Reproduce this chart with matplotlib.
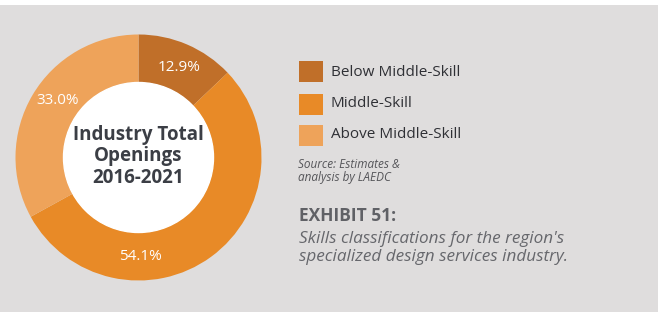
import numpy as np
import matplotlib.pyplot as plt
from matplotlib.patches import Rectangle

plt.rcParams['font.family'] = ['Open Sans', 'DejaVu Sans']

categories = ['Below Middle-Skill', 'Middle-Skill', 'Above Middle-Skill']
shares = [12.9, 54.1, 33.0]
colors = ['#c06f29', '#e88a27', '#eea35a']
label_angles = [66, -89, 144.5]   # where the % labels sit on the ring

W, H = 660, 312
bg = '#dfdddd'

fig = plt.figure(figsize=(W / 100, H / 100), dpi=100, facecolor=bg)
# white strip at the top and right edge
fig.patches.append(Rectangle((0, 1 - 5 / H), 1, 5 / H, transform=fig.transFigure,
                             facecolor='white', edgecolor='none'))
fig.patches.append(Rectangle((1 - 2 / W, 0), 2 / W, 1, transform=fig.transFigure,
                             facecolor='white', edgecolor='none'))

# donut
cx, cy, R = 138.5, 157.5, 123
box = 125
ax = fig.add_axes([(cx - box) / W, (H - cy - box) / H, 2 * box / W, 2 * box / H])
ax.set_facecolor('none')
r_out = R / box
r_in = 75 / box
ax.pie(shares, colors=colors, startangle=90, counterclock=False, radius=r_out,
       wedgeprops=dict(width=r_out - r_in, edgecolor='none'))
ax.add_patch(plt.Circle((0, 0), r_in, color='white', zorder=3))
r_lab = (r_out + r_in) / 2
for v, a in zip(shares, label_angles):
    t = np.deg2rad(a)
    ax.text(r_lab * np.cos(t), r_lab * np.sin(t), f'{v:.1f}%', color='white',
            fontsize=11, ha='center', va='center', zorder=4)
ax.text(0, 0.01, 'Industry Total\nOpenings\n2016-2021', ha='center', va='center',
        fontsize=13.5, fontweight='bold', color='#3b3e45', linespacing=1.1, zorder=4)
ax.set_xlim(-1, 1)
ax.set_ylim(-1, 1)
ax.set_aspect('equal')
ax.axis('off')

# legend
ys = [72, 104, 135]
for name, c, y in zip(categories, colors, ys):
    fig.patches.append(Rectangle((299 / W, 1 - (y + 10.5) / H), 24 / W, 21 / H,
                                 transform=fig.transFigure, facecolor=c, edgecolor='none'))
    fig.text(331 / W, 1 - y / H, name, fontsize=11, color='#2f3035', va='center', ha='left')

fig.text(298 / W, 1 - 171 / H, 'Source: Estimates &\nanalysis by LAEDC', fontsize=8.5,
         style='italic', color='#555559', va='center', ha='left', linespacing=1.0)
fig.text(299 / W, 1 - 216 / H, 'EXHIBIT 51:', fontsize=12.5, fontweight='bold',
         color='#606166', va='center', ha='left')
fig.text(299 / W, 1 - 248 / H, "Skills classifications for the region's\n"
         "specialized design services industry.", fontsize=12.3, style='italic',
         color='#66676c', va='center', ha='left', linespacing=1.1)

fig.savefig('out.png', dpi=100, facecolor=bg)
